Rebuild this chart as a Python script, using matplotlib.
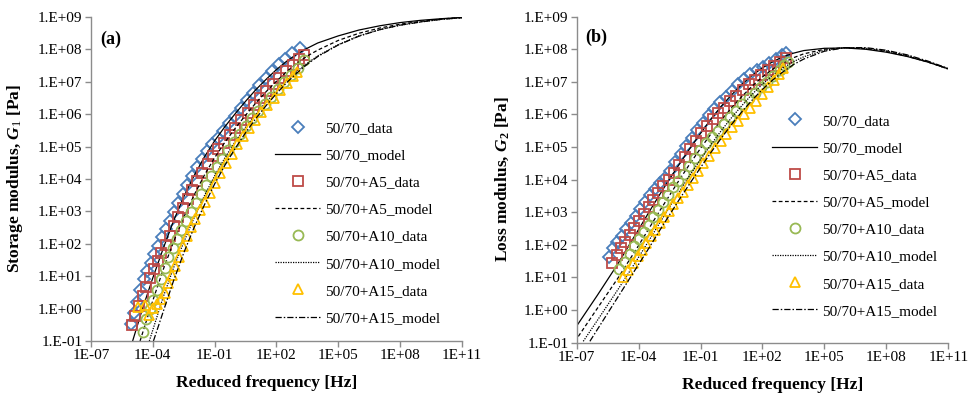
import matplotlib
matplotlib.use("Agg")
import matplotlib.pyplot as plt
import numpy as np

plt.rcParams["font.family"] = ["Liberation Serif", "DejaVu Serif"]
plt.rcParams["mathtext.fontset"] = "custom"
plt.rcParams["mathtext.rm"] = "Liberation Serif"
plt.rcParams["mathtext.it"] = "Liberation Serif:italic"
plt.rcParams["mathtext.bf"] = "Liberation Serif:bold"
plt.rcParams["mathtext.bfit"] = "Liberation Serif:italic:bold"

# values, stored as log10(frequency) / log10(modulus)
# ---- (a) storage modulus ----
a_base_f = [-5.07, -4.92, -4.78, -4.62, -4.45, -4.28, -4.10, -3.92, -3.74, -3.55, -3.36, -3.17,
            -2.97, -2.76, -2.55, -2.33, -2.10, -1.86, -1.62, -1.37, -1.11, -0.85, -0.58, -0.30,
            -0.02, 0.27, 0.56, 0.86, 1.16, 1.47, 1.78, 2.10, 2.42, 2.75, 3.15]
a_base_g = [-0.48, -0.12, 0.22, 0.58, 0.90, 1.16, 1.42, 1.68, 1.94, 2.20, 2.46, 2.72,
            2.99, 3.27, 3.54, 3.81, 4.09, 4.37, 4.62, 4.86, 5.07, 5.27, 5.49, 5.73,
            5.96, 6.20, 6.43, 6.67, 6.91, 7.12, 7.33, 7.54, 7.72, 7.88, 8.03]
a_a5_f = [-5.02, -4.85, -4.68, -4.50, -4.32, -4.14, -3.96, -3.77, -3.58, -3.38, -3.18, -2.97,
          -2.76, -2.54, -2.31, -2.08, -1.84, -1.59, -1.34, -1.08, -0.82, -0.55, -0.27, 0.01,
          0.30, 0.60, 0.90, 1.20, 1.51, 1.82, 2.14, 2.46, 2.79, 3.10, 3.31]
a_a5_g = [-0.50, -0.22, 0.08, 0.38, 0.68, 0.96, 1.22, 1.47, 1.71, 1.96, 2.23, 2.55,
          2.83, 3.10, 3.38, 3.66, 3.93, 4.20, 4.46, 4.70, 4.92, 5.12, 5.35, 5.58,
          5.82, 6.05, 6.28, 6.50, 6.72, 6.92, 7.12, 7.32, 7.52, 7.71, 7.83]
a_a10_f = [-4.46, -4.32, -4.16, -3.99, -3.81, -3.62, -3.43, -3.24, -3.04, -2.83, -2.61, -2.38,
           -2.15, -1.91, -1.67, -1.42, -1.16, -0.90, -0.63, -0.35, -0.07, 0.22, 0.52, 0.82,
           1.12, 1.43, 1.74, 2.06, 2.38, 2.70, 3.02, 3.31]
a_a10_g = [-0.71, -0.32, 0.00, 0.28, 0.58, 0.90, 1.24, 1.58, 1.88, 2.15, 2.43, 2.71,
           2.99, 3.26, 3.53, 3.82, 4.09, 4.36, 4.63, 4.90, 5.15, 5.39, 5.63, 5.87,
           6.09, 6.31, 6.54, 6.77, 7.00, 7.22, 7.44, 7.66]
a_a15_f = [-4.72, -4.40, -4.18, -3.98, -3.78, -3.60, -3.42, -3.25, -3.08, -2.90, -2.72, -2.53,
           -2.34, -2.14, -1.93, -1.71, -1.48, -1.24, -0.99, -0.73, -0.46, -0.18, 0.10, 0.38,
           0.67, 0.96, 1.26, 1.56, 1.87, 2.18, 2.49, 2.79, 2.98]
a_a15_g = [0.05, 0.10, -0.20, 0.02, 0.15, 0.30, 0.48, 0.78, 1.05, 1.32, 1.60, 1.92,
           2.24, 2.52, 2.78, 3.04, 3.30, 3.58, 3.88, 4.18, 4.48, 4.78, 5.07, 5.33,
           5.58, 5.82, 6.06, 6.29, 6.51, 6.74, 6.96, 7.17, 7.31]

a_base_mf = [-4.98, -4.5, -4.0, -3.5, -3.0, -2.5, -2.0, -1.5, -1.0, -0.5, 0, 0.5, 1, 1.5, 2, 2.5,
             3, 3.5, 4, 5, 6, 7, 8, 9, 10, 11]
a_base_mg = [-1.0, 0.0, 0.95, 1.85, 2.7, 3.45, 4.1, 4.68, 5.18, 5.62, 6.02, 6.4, 6.76, 7.08, 7.38,
             7.64, 7.86, 8.04, 8.2, 8.42, 8.6, 8.73, 8.83, 8.9, 8.95, 8.99]
a_a5_mf = [-4.62, -4.0, -3.5, -3.0, -2.5, -2.0, -1.5, -1.0, -0.5, 0, 0.5, 1, 1.5, 2, 2.5, 3, 3.5,
           4, 5, 6, 7, 8, 9, 10, 11]
a_a5_mg = [-1.0, 0.25, 1.2, 2.05, 2.82, 3.5, 4.12, 4.66, 5.14, 5.57, 5.97, 6.35, 6.7, 7.02, 7.32,
           7.58, 7.8, 7.98, 8.28, 8.5, 8.66, 8.78, 8.87, 8.94, 8.99]
a_a10_mf = [-4.17, -3.5, -3.0, -2.5, -2.0, -1.5, -1.0, -0.5, 0, 0.5, 1, 1.5, 2, 2.5, 3, 3.5, 4,
            5, 6, 7, 8, 9, 10, 11]
a_a10_mg = [-1.0, 0.35, 1.25, 2.05, 2.8, 3.48, 4.1, 4.66, 5.16, 5.6, 6.0, 6.38, 6.72, 7.04, 7.33,
            7.58, 7.8, 8.15, 8.42, 8.61, 8.75, 8.85, 8.93, 8.98]
a_a15_mf = [-3.97, -3.5, -3.0, -2.5, -2.0, -1.5, -1.0, -0.5, 0, 0.5, 1, 1.5, 2, 2.5, 3, 3.5, 4,
            5, 6, 7, 8, 9, 10, 11]
a_a15_mg = [-1.0, -0.1, 0.85, 1.72, 2.5, 3.2, 3.85, 4.43, 4.95, 5.43, 5.87, 6.27, 6.64, 6.98,
            7.28, 7.55, 7.78, 8.14, 8.41, 8.61, 8.75, 8.85, 8.93, 8.98]

# ---- (b) loss modulus ----
b_base_f = [-5.43, -5.23, -5.03, -4.82, -4.60, -4.38, -4.15, -3.92, -3.69, -3.46, -3.22, -2.98,
            -2.73, -2.48, -2.22, -1.96, -1.70, -1.43, -1.16, -0.89, -0.61, -0.33, -0.05, 0.24,
            0.53, 0.82, 1.12, 1.42, 1.72, 2.02, 2.33, 2.64, 2.94, 3.14]
b_base_g = [1.62, 1.90, 2.08, 2.28, 2.48, 2.67, 2.87, 3.09, 3.31, 3.53, 3.72, 3.89,
            4.06, 4.28, 4.53, 4.78, 5.03, 5.28, 5.52, 5.75, 5.97, 6.18, 6.37, 6.55,
            6.73, 6.92, 7.08, 7.23, 7.36, 7.47, 7.58, 7.70, 7.81, 7.88]
b_a5_f = [-5.31, -5.07, -4.86, -4.64, -4.42, -4.20, -3.97, -3.74, -3.51, -3.28, -3.04, -2.80,
          -2.55, -2.29, -2.03, -1.77, -1.50, -1.23, -0.96, -0.69, -0.41, -0.13, 0.16, 0.45,
          0.74, 1.04, 1.34, 1.64, 1.94, 2.25, 2.56, 2.86, 3.14]
b_a5_g = [1.44, 1.69, 1.90, 2.10, 2.30, 2.51, 2.73, 2.95, 3.17, 3.39, 3.60, 3.80,
          3.99, 4.20, 4.44, 4.69, 4.95, 5.19, 5.42, 5.64, 5.86, 6.04, 6.20, 6.40,
          6.58, 6.76, 6.93, 7.07, 7.21, 7.36, 7.50, 7.62, 7.73]
b_a10_f = [-4.94, -4.67, -4.44, -4.21, -3.98, -3.75, -3.52, -3.29, -3.06, -2.82, -2.58, -2.33,
           -2.08, -1.82, -1.55, -1.28, -1.01, -0.73, -0.45, -0.16, 0.13, 0.43, 0.73, 1.03,
           1.33, 1.63, 1.93, 2.23, 2.53, 2.83, 3.05, 3.22]
b_a10_g = [1.26, 1.48, 1.72, 1.95, 2.18, 2.40, 2.62, 2.85, 3.07, 3.30, 3.54, 3.76,
           3.96, 4.17, 4.42, 4.67, 4.90, 5.11, 5.31, 5.50, 5.70, 5.91, 6.12, 6.31,
           6.49, 6.67, 6.84, 7.00, 7.18, 7.37, 7.51, 7.62]
b_a15_f = [-4.75, -4.51, -4.27, -4.05, -3.84, -3.62, -3.40, -3.19, -2.98, -2.76, -2.54, -2.32,
           -2.10, -1.87, -1.63, -1.38, -1.12, -0.86, -0.59, -0.31, -0.03, 0.25, 0.54, 0.83,
           1.12, 1.41, 1.70, 1.99, 2.28, 2.56, 2.80, 2.98]
b_a15_g = [1.02, 1.23, 1.44, 1.65, 1.85, 2.05, 2.26, 2.46, 2.66, 2.86, 3.05, 3.25,
           3.44, 3.63, 3.83, 4.04, 4.27, 4.51, 4.74, 4.97, 5.18, 5.40, 5.60, 5.80,
           6.00, 6.20, 6.41, 6.63, 6.85, 7.06, 7.24, 7.42]

b_model_f = [-7, -6, -5, -4.5, -4, -3.5, -3, -2.5, -2, -1.5, -1, -0.5, 0, 0.5, 1, 1.5, 2, 2.5,
             3, 3.5, 4, 5, 6, 7, 8, 9, 10, 11]
b_base_mg = [-0.49, 0.45, 1.42, 1.95, 2.47, 3.0, 3.52, 4.02, 4.5, 4.97, 5.42, 5.85, 6.25, 6.6,
             6.92, 7.2, 7.43, 7.62, 7.77, 7.88, 7.96, 8.03, 8.04, 8.0, 7.91, 7.78, 7.61, 7.4]
b_a5_mf = [-6.92] + b_model_f[1:]
b_a5_mg = [-0.81, 0.05, 0.98, 1.48, 1.98, 2.5, 3.02, 3.52, 4.02, 4.5, 4.96, 5.4, 5.82, 6.2,
           6.55, 6.87, 7.15, 7.39, 7.58, 7.74, 7.86, 8.0, 8.05, 8.02, 7.93, 7.79, 7.61, 7.4]
b_a10_mf = [-6.68] + b_model_f[1:]
b_a10_mg = [-0.96, -0.32, 0.63, 1.12, 1.62, 2.13, 2.65, 3.16, 3.66, 4.15, 4.62, 5.07, 5.5, 5.9,
            6.27, 6.62, 6.93, 7.2, 7.43, 7.62, 7.77, 7.97, 8.05, 8.03, 7.95, 7.81, 7.62, 7.39]
b_a15_mf = [-6.36] + b_model_f[1:]
b_a15_mg = [-0.96, -0.6, 0.4, 0.9, 1.4, 1.9, 2.42, 2.92, 3.42, 3.9, 4.37, 4.83, 5.27, 5.69,
            6.08, 6.44, 6.77, 7.06, 7.31, 7.53, 7.7, 7.94, 8.05, 8.05, 7.97, 7.83, 7.64, 7.41]

names = ["50/70", "50/70+A5", "50/70+A10", "50/70+A15"]
x_ticks = [1e-7, 1e-4, 1e-1, 1e2, 1e5, 1e8, 1e11]
x_tick_labels = ["1E-07", "1E-04", "1E-01", "1E+02", "1E+05", "1E+08", "1E+11"]
y_ticks = [10.0 ** k for k in range(-1, 10)]
y_tick_labels = ["1.E-01", "1.E+00", "1.E+01", "1.E+02", "1.E+03", "1.E+04",
                 "1.E+05", "1.E+06", "1.E+07", "1.E+08", "1.E+09"]

colors = ["#4A7EBB", "#BE4B48", "#98B954", "#FFC000"]
markers = ["D", "s", "o", "^"]
msizes = [6.5, 6.8, 7.2, 7.8]
lstyles = ["-", (0, (3, 2)), (0, (1, 1)), (0, (5, 1.6, 1.2, 1.6))]

panels = [
    dict(data=[(a_base_f, a_base_g), (a_a5_f, a_a5_g), (a_a10_f, a_a10_g), (a_a15_f, a_a15_g)],
         model=[(a_base_mf, a_base_mg), (a_a5_mf, a_a5_mg), (a_a10_mf, a_a10_mg), (a_a15_mf, a_a15_mg)],
         rect=[0.0938, 0.141, 0.3825, 0.816],
         ylabel=r"Storage modulus, $\mathbfit{G}_{\mathit{1}}$ [Pa]",
         tag="(a)", tag_xy=(0.103, 0.902), leg=(0.2835, 0.438), xlab_x=0.474),
    dict(data=[(b_base_f, b_base_g), (b_a5_f, b_a5_g), (b_a10_f, b_a10_g), (b_a15_f, b_a15_g)],
         model=[(b_model_f, b_base_mg), (b_a5_mf, b_a5_mg), (b_a10_mf, b_a10_mg), (b_a15_mf, b_a15_mg)],
         rect=[0.5945, 0.137, 0.3831, 0.821],
         ylabel=r"Loss modulus, $\mathbfit{G}_{\mathbf{2}}$ [Pa]",
         tag="(b)", tag_xy=(0.603, 0.905), leg=(0.796, 0.456), xlab_x=0.527),
]

fig = plt.figure(figsize=(9.7, 3.97), dpi=100)

for p in panels:
    ax = fig.add_axes(p["rect"])
    for i in range(4):
        df, dg = p["data"][i]
        mf, mg = p["model"][i]
        ax.plot(10.0 ** np.array(df), 10.0 ** np.array(dg), linestyle="none",
                marker=markers[i], ms=msizes[i], mfc="none", mec=colors[i], mew=1.3,
                label=names[i] + "_data")
        ax.plot(10.0 ** np.array(mf), 10.0 ** np.array(mg), color="black",
                lw=0.9, linestyle=lstyles[i], label=names[i] + "_model")
    ax.set_xscale("log")
    ax.set_yscale("log")
    ax.set_xlim(1e-7, 1e11)
    ax.set_ylim(1e-1, 1e9)
    ax.set_xticks(x_ticks)
    ax.set_xticklabels(x_tick_labels)
    ax.set_yticks(y_ticks)
    ax.set_yticklabels(y_tick_labels)
    ax.minorticks_off()
    for s in ["top", "right"]:
        ax.spines[s].set_visible(False)
    for s in ["left", "bottom"]:
        ax.spines[s].set_color("#8c8c8c")
        ax.spines[s].set_linewidth(1.0)
    ax.tick_params(axis="both", direction="out", length=4, width=1, color="#8c8c8c",
                   labelsize=11, pad=2)
    ax.set_ylabel(p["ylabel"], fontsize=12.5, fontweight="bold")
    ax.yaxis.set_label_coords(-0.178, 0.5)
    ax.set_xlabel("Reduced frequency [Hz]", fontsize=12.5, fontweight="bold")
    ax.xaxis.set_label_coords(p["xlab_x"], -0.105)
    fig.text(p["tag_xy"][0], p["tag_xy"][1], p["tag"], fontsize=13, fontweight="bold",
             va="center", ha="left")
    fig.legend(handles=ax.get_lines(), loc="center left", bbox_to_anchor=p["leg"],
               frameon=False, fontsize=11, handlelength=2.95, handletextpad=0.35,
               labelspacing=0.88, borderpad=0, borderaxespad=0)

fig.savefig("out.png", dpi=100)
